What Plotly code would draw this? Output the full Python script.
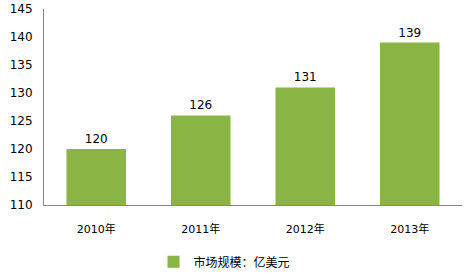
import plotly.graph_objects as go

categories = ["2010年", "2011年", "2012年", "2013年"]
values = [120, 126, 131, 139]
series_name = "市场规模：亿美元"
y_ticks = [110, 115, 120, 125, 130, 135, 140, 145]

font_family = "DejaVu Sans, Noto Sans CJK SC, sans-serif"

fig = go.Figure()
fig.add_trace(go.Bar(
    x=categories, y=values, name=series_name,
    marker=dict(color="#8ab544", line=dict(width=0)),
    text=[str(v) for v in values], textposition="outside",
    textfont=dict(size=12, color="#000000", family=font_family),
    cliponaxis=False, showlegend=True,
))

fig.update_layout(
    width=475, height=280,
    margin=dict(l=44, r=13, t=9, b=75, autoexpand=False),
    paper_bgcolor="white", plot_bgcolor="white",
    bargap=0.43,
    font=dict(family=font_family, size=12, color="#000000"),
    showlegend=True,
    legend=dict(orientation="h", x=0.262, xanchor="left", y=-0.29, yanchor="middle",
                font=dict(size=12, family=font_family), itemwidth=30),
    xaxis=dict(showline=True, linecolor="#868686", linewidth=1, ticks="",
               tickfont=dict(size=11, family=font_family), showgrid=False,
               ticklabelstandoff=14),
    yaxis=dict(range=[110, 145], tickvals=y_ticks, showline=True, linecolor="#868686",
               linewidth=1, ticks="", showgrid=False, zeroline=False,
               tickfont=dict(size=12, family=font_family), ticklabelstandoff=8),
)

fig.write_html("out.html")
